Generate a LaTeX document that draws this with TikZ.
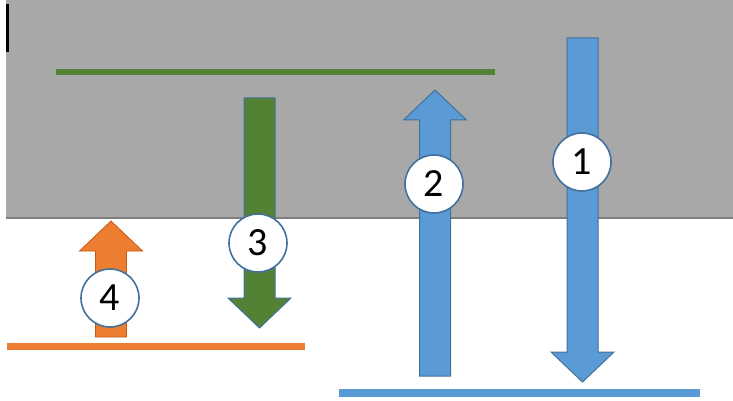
\documentclass[tikz,border=0pt]{standalone}
\usepackage{fontspec}
\setmainfont{Carlito}
\definecolor{bgGray}{HTML}{A8A8A8}
\definecolor{edgeGray}{HTML}{7F7F7F}
\definecolor{oBlue}{HTML}{5B9BD5}
\definecolor{oBlueEdge}{HTML}{41719C}
\definecolor{oGreen}{HTML}{548235}
\definecolor{oOrange}{HTML}{ED7D31}
\definecolor{oOrangeEdge}{HTML}{C55A11}
\tikzset{
  numcircle/.style={circle, draw=oBlueEdge, line width=1.6pt, fill=white,
    minimum size=58pt, inner sep=0pt, font=\fontsize{40}{40}\selectfont},
  blueshape/.style={fill=oBlue, draw=oBlueEdge, line width=1pt},
  greenshape/.style={fill=oGreen, draw=oBlueEdge, line width=1pt},
  orangeshape/.style={fill=oOrange, draw=oOrangeEdge, line width=0.8pt}
}
\newcommand{\bigarrow}[4]{%
  \pgfmathsetmacro{\headbase}{#4+(#4>#3?-30:30)}
  \draw[#1] (#2-15.5,#3) -- (#2+15.5,#3) -- (#2+15.5,\headbase) -- (#2+31.5,\headbase)
    -- (#2,#4) -- (#2-31.5,\headbase) -- (#2-15.5,\headbase) -- cycle;}
\begin{document}
\begin{tikzpicture}[x=1pt,y=-1pt]
\useasboundingbox (0,0) rectangle (733,401);
\fill[bgGray] (6,0) rectangle (733,218);
\draw[edgeGray, line width=2pt] (6,218) -- (733,218);
\draw[black, line width=3pt] (7.5,4) -- (7.5,52);
\coordinate (gl) at (56,72);
\coordinate (gr) at (495,72);
\coordinate (ol) at (7,346);
\coordinate (or) at (305,346);
\coordinate (bl) at (339,393);
\coordinate (br) at (700,393);
\draw[oGreen, line width=6pt] (gl) -- (gr);
\draw[oOrange, line width=7pt] (ol) -- (or);
\draw[oBlue, line width=8pt] (bl) -- (br);
\bigarrow{blueshape}{582.5}{38}{382}
\bigarrow{blueshape}{435}{376}{90}
\bigarrow{greenshape}{259.5}{98}{328}
\bigarrow{orangeshape}{111}{337}{221}
\node[numcircle] (n1) at (582,162) {1};
\node[numcircle] (n2) at (434,184) {2};
\node[numcircle] (n3) at (258,243) {3};
\node[numcircle] (n4) at (110,298) {4};
\end{tikzpicture}
\end{document}
